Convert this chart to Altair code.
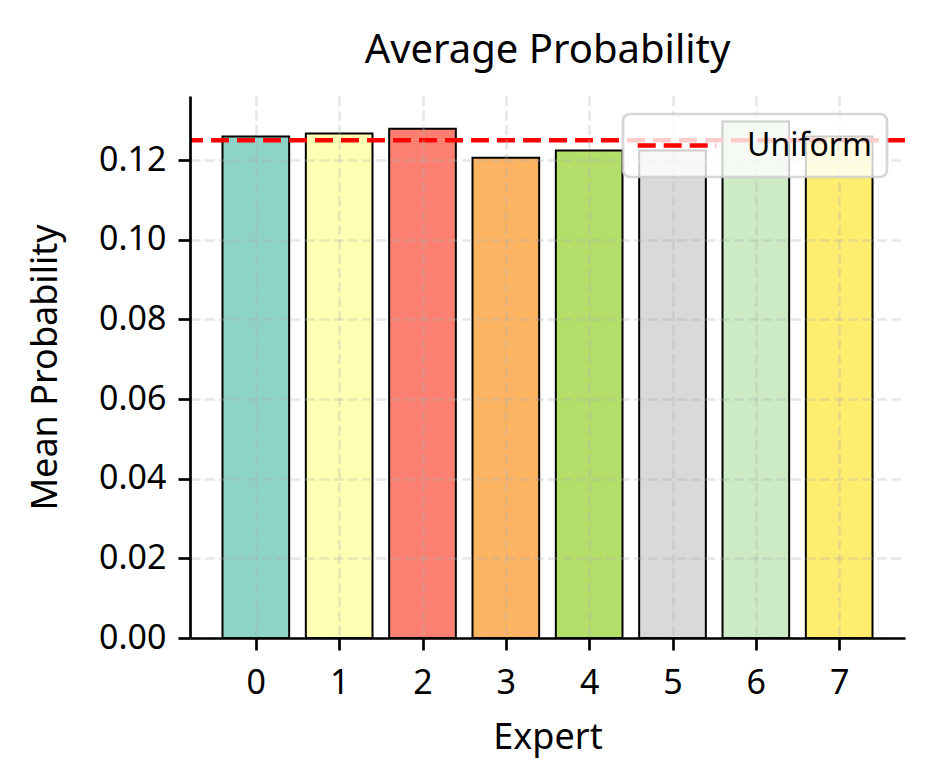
import altair as alt
import pandas as pd

# ---- data ----
experts = [0, 1, 2, 3, 4, 5, 6, 7]
mean_prob = [0.1259, 0.1267, 0.1279, 0.1206, 0.1224, 0.1224, 0.1297, 0.1259]
bar_colors = ["#8dd3c7", "#ffffb3", "#fb8072", "#fdb462",
              "#b3de69", "#d9d9d9", "#ccebc5", "#ffed6f"]
uniform_label = ["Uniform"]
uniform_value = [1 / 8]
x_ticks = experts
y_ticks = [0.0, 0.02, 0.04, 0.06, 0.08, 0.10, 0.12]

FONT = "Noto Sans"

bars_df = pd.DataFrame({"expert": experts, "prob": mean_prob, "color": bar_colors})
bars_df["x0"] = bars_df["expert"] - 0.4
bars_df["x1"] = bars_df["expert"] + 0.4
uni_df = pd.DataFrame({"label": uniform_label, "value": uniform_value})

grid_kw = dict(grid=True, gridDash=[10, 4.3], gridColor="#b0b0b0",
               gridOpacity=0.3, gridWidth=2.7)
axis_kw = dict(domainColor="black", domainWidth=2.7, tickColor="black",
               tickWidth=2.7, tickSize=12, labelColor="black",
               labelFont=FONT, labelFontSize=34, titleFont=FONT,
               titleFontSize=36, titleFontWeight="normal", titleColor="black",
               zindex=1, **grid_kw)

x_scale = alt.Scale(domain=[-0.79, 7.79], nice=False, zero=False)
y_scale = alt.Scale(domain=[0, 0.1361], nice=False)

bars = alt.Chart(bars_df).mark_rect(stroke="black", strokeWidth=2).encode(
    x=alt.X("x0:Q", scale=x_scale,
            axis=alt.Axis(values=x_ticks, format="d", title="Expert",
                          labelPadding=16, titlePadding=20, labelFlush=False,
                          **axis_kw)),
    x2="x1:Q",
    y=alt.Y("prob:Q", scale=y_scale,
            axis=alt.Axis(values=y_ticks, format=".2f", title="Mean Probability",
                          labelPadding=12, titlePadding=34, labelFlush=False,
                          **axis_kw)),
    y2=alt.datum(0),
    fill=alt.Fill("color:N", scale=None, legend=None),
)

rule = alt.Chart(uni_df).mark_rule(strokeDash=[18, 8], strokeWidth=4.5).encode(
    y=alt.Y("value:Q", scale=y_scale),
    stroke=alt.Stroke(
        "label:N",
        scale=alt.Scale(domain=uniform_label, range=["red"]),
        legend=alt.Legend(
            title=None, orient="top-right", offset=18, zindex=2,
            symbolType="M-1.2,0H4.4", symbolSize=784, symbolStrokeWidth=4.5,
            symbolDash=[18, 8], symbolFillColor="transparent",
            labelFont=FONT, labelFontSize=32, labelColor="black",
            labelOffset=76, padding=15,
            fillColor="rgba(255,255,255,0.8)",
            cornerRadius=7,
        ),
    ),
)

chart = alt.layer(bars, rule).properties(
    width=715, height=542,
    padding={"left": 182, "top": 88, "right": 21, "bottom": 130},
    autosize=alt.AutoSizeParams(type="none"),
    background="white",
    title=alt.TitleParams("Average Probability", font=FONT, fontSize=40,
                          fontWeight="normal", color="black", anchor="middle",
                          baseline="alphabetic", offset=-7),
).configure_view(stroke=None).configure_legend(
    strokeColor="rgba(204,204,204,0.8)", strokeWidth=2.7
)

chart.save("out.html", embed_options={"renderer": "svg", "actions": False})
